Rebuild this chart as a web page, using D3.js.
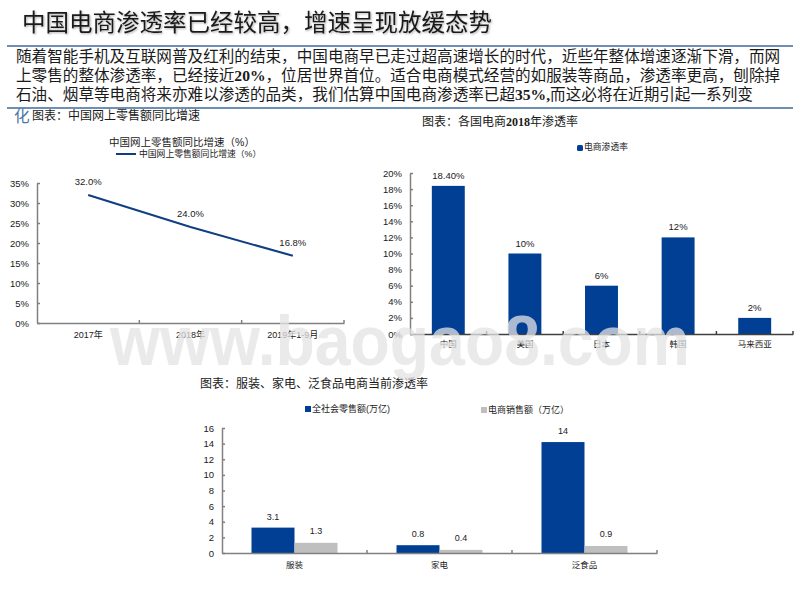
<!DOCTYPE html>
<html>
<head>
<meta charset="utf-8">
<script src="https://cdn.jsdelivr.net/npm/d3@7"></script>
<style>
  html, body { margin: 0; padding: 0; background: #fff; }
  text { font-family: "Liberation Sans", "Noto Sans CJK SC", sans-serif; fill: #1a1a1a; }
  .serif { font-family: "Liberation Serif", "Noto Sans CJK SC", serif; }
  .axis path, .axis line { stroke: #808080; stroke-width: 1.5; }
</style>
</head>
<body>
<div id="chart"></div>
<script>
/////////////////////////Data////////////////////////////
let titleText = "中国电商渗透率已经较高，增速呈现放缓态势";
let bodyLines = [
  "随着智能手机及互联网普及红利的结束，中国电商早已走过超高速增长的时代，近些年整体增速逐渐下滑，而网",
  "上零售的整体渗透率，已经接近20%，位居世界首位。适合电商模式经营的如服装等商品，渗透率更高，刨除掉",
  "石油、烟草等电商将来亦难以渗透的品类，我们估算中国电商渗透率已超35%,而这必将在近期引起一系列变"
];

let growthYears = ["2017年", "2018年", "2019年1-9月"];
let growthValues = [32.0, 24.0, 16.8];
let growthTicks = [0, 5, 10, 15, 20, 25, 30, 35];

let countries = ["中国", "美国", "日本", "韩国", "马来西亚"];
let penetration = [18.4, 10, 6, 12, 2];
let penetrationLabels = ["18.40%", "10%", "6%", "12%", "2%"];
let penetrationTicks = [0, 2, 4, 6, 8, 10, 12, 14, 16, 18, 20];

let goods = ["服装", "家电", "泛食品"];
let retailValues = [3.25, 1.0, 14.2];
let retailLabels = ["3.1", "0.8", "14"];
let onlineValues = [1.3, 0.4, 0.9];
let onlineLabels = ["1.3", "0.4", "0.9"];
let salesTicks = [0, 2, 4, 6, 8, 10, 12, 14, 16];

/////////////////////////Set Up////////////////////////////
let svg = d3.select("#chart").append("svg")
  .attr("width", 800)
  .attr("height", 600)
  .style("display", "block");

let blue = "#003f94";
let gray = "#bfbfbf";
let rule = "#3c6a9c";

// Plain text label
function label(x, y, str, size, anchor) {
  return svg.append("text")
    .attr("x", x)
    .attr("y", y)
    .attr("font-size", size)
    .attr("text-anchor", anchor || "start")
    .text(str);
}

// Caption and body text, digits are bold serif
function serifRuns(node, str) {
  str.split(/(\d+%?,?)/).forEach((part, i) => {
    if (!part) return;
    node.append("tspan")
      .attr("font-weight", i % 2 ? "bold" : "normal")
      .text(part);
  });
  return node;
}

// Small marks between the categories of a band axis
function bandTicks(scale, yPos, color) {
  let step = scale.step();
  let start = scale.range()[0];
  scale.domain().forEach((d, i) => {
    let px = start + step * (i + 1);
    svg.append("line").attr("x1", px).attr("x2", px).attr("y1", yPos - 3).attr("y2", yPos)
      .attr("stroke", color).attr("stroke-width", 1.5);
  });
}

/////////////////////////Header////////////////////////////
svg.append("text")
  .attr("x", 22)
  .attr("y", 31)
  .attr("font-size", 23.5)
  .style("filter", "drop-shadow(1px 1px 1px #aaa)")
  .text(titleText);

svg.append("line").attr("x1", 7).attr("x2", 793).attr("y1", 46).attr("y2", 46)
  .attr("stroke", rule).attr("stroke-width", 1.5);
svg.append("line").attr("x1", 7).attr("x2", 793).attr("y1", 108).attr("y2", 108)
  .attr("stroke", rule).attr("stroke-width", 1.5);

bodyLines.forEach((line, i) => {
  let t = svg.append("text")
    .attr("class", "serif")
    .attr("x", 16)
    .attr("y", 62 + i * 19)
    .attr("font-size", 15.6);
  serifRuns(t, line);
});

svg.append("text")
  .attr("x", 14)
  .attr("y", 122)
  .attr("font-size", 15.6)
  .style("fill", "#4a76a5")
  .text("化");

serifRuns(svg.append("text").attr("class", "serif").attr("x", 32).attr("y", 120).attr("font-size", 12),
  "图表：中国网上零售额同比增速");
serifRuns(svg.append("text").attr("class", "serif").attr("x", 422).attr("y", 126).attr("font-size", 12),
  "图表：各国电商2018年渗透率");
serifRuns(svg.append("text").attr("class", "serif").attr("x", 200).attr("y", 388).attr("font-size", 12),
  "图表：服装、家电、泛食品电商当前渗透率");

/////////////////////////Line Chart////////////////////////////
let x1 = d3.scaleBand().domain(growthYears).range([37, 344]);
let y1 = d3.scaleLinear().domain([0, 35]).range([323, 183]);

svg.append("g").attr("class", "axis")
  .attr("transform", "translate(0,323)")
  .call(d3.axisBottom(x1).tickSize(0).tickPadding(9))
  .call(g => g.selectAll("text").attr("font-size", 9));

svg.append("g").attr("class", "axis")
  .attr("transform", "translate(37,0)")
  .call(d3.axisLeft(y1).tickValues(growthTicks).tickFormat(d => d + "%").tickSize(-3).tickSizeOuter(0).tickPadding(8))
  .call(g => g.selectAll("text").attr("font-size", 9.5));

bandTicks(x1, 323, "#808080");

let growthLine = d3.line()
  .x((d, i) => x1(growthYears[i]) + x1.bandwidth() / 2)
  .y(d => y1(d));

svg.append("path")
  .attr("d", growthLine(growthValues))
  .attr("fill", "none")
  .attr("stroke", "#0f3f83")
  .attr("stroke-width", 2);

growthValues.forEach((v, i) => {
  label(x1(growthYears[i]) + x1.bandwidth() / 2, y1(v) - 10, v.toFixed(1) + "%", 9.5, "middle");
});

label(182, 146, "中国网上零售额同比增速（%）", 10.5, "middle");
svg.append("line").attr("x1", 116).attr("x2", 136).attr("y1", 154).attr("y2", 154)
  .attr("stroke", "#0f3f83").attr("stroke-width", 2);
label(139, 157, "中国网上零售额同比增速（%）", 8.8);

/////////////////////////Penetration Chart////////////////////////////
let x2 = d3.scaleBand().domain(countries).range([410, 793]).paddingInner(0.57).paddingOuter(0.285);
let y2 = d3.scaleLinear().domain([0, 20]).range([334, 173]);

svg.append("g").selectAll("rect")
  .data(penetration)
  .enter()
  .append("rect")
  .attr("x", (d, i) => x2(countries[i]))
  .attr("y", d => y2(d))
  .attr("width", x2.bandwidth())
  .attr("height", d => 334 - y2(d))
  .attr("fill", blue);

svg.append("g").attr("class", "axis")
  .attr("transform", "translate(0,334)")
  .call(d3.axisBottom(x2).tickSize(0).tickPadding(7))
  .call(g => g.select("path").style("stroke", "#404040"))
  .call(g => g.selectAll("text").attr("font-size", 8.5));

svg.append("g").attr("class", "axis")
  .attr("transform", "translate(410,0)")
  .call(d3.axisLeft(y2).tickValues(penetrationTicks).tickFormat(d => d + "%").tickSize(-3).tickSizeOuter(0).tickPadding(8))
  .call(g => g.selectAll("text").attr("font-size", 9.5));

// The band scale has inner padding, so separators use an unpadded copy
bandTicks(d3.scaleBand().domain(countries).range([410, 793]), 334, "#404040");

penetration.forEach((v, i) => {
  label(x2(countries[i]) + x2.bandwidth() / 2, y2(v) - 7, penetrationLabels[i], 9.5, "middle");
});

svg.append("rect").attr("x", 577).attr("y", 145).attr("width", 6).attr("height", 6).attr("rx", 1.5).attr("fill", blue);
label(584, 150, "电商渗透率", 8.8);

/////////////////////////Sales Chart////////////////////////////
let x3 = d3.scaleBand().domain(goods).range([222, 657]);
let y3 = d3.scaleLinear().domain([0, 16]).range([553, 428]);
let barWidth = 43;

goods.forEach((g, i) => {
  let center = x3(g) + x3.bandwidth() / 2;
  svg.append("rect")
    .attr("x", center - barWidth)
    .attr("y", y3(retailValues[i]))
    .attr("width", barWidth)
    .attr("height", 553 - y3(retailValues[i]))
    .attr("fill", blue);
  svg.append("rect")
    .attr("x", center)
    .attr("y", y3(onlineValues[i]))
    .attr("width", barWidth)
    .attr("height", 553 - y3(onlineValues[i]))
    .attr("fill", gray);
  label(center - barWidth / 2, y3(retailValues[i]) - 8, retailLabels[i], 9, "middle");
  label(center + barWidth / 2, y3(onlineValues[i]) - 9, onlineLabels[i], 9, "middle");
});

svg.append("g").attr("class", "axis")
  .attr("transform", "translate(0,553)")
  .call(d3.axisBottom(x3).tickSize(0).tickPadding(9))
  .call(g => g.selectAll("text").attr("font-size", 8.5));

svg.append("g").attr("class", "axis")
  .attr("transform", "translate(222,0)")
  .call(d3.axisLeft(y3).tickValues(salesTicks).tickSize(-3).tickSizeOuter(0).tickPadding(8))
  .call(g => g.selectAll("text").attr("font-size", 9.5));

bandTicks(x3, 553, "#808080");

svg.append("rect").attr("x", 305).attr("y", 406).attr("width", 6).attr("height", 6).attr("fill", blue);
label(312, 412, "全社会零售额(万亿)", 9);
svg.append("rect").attr("x", 481).attr("y", 407).attr("width", 6).attr("height", 6).attr("fill", gray);
label(488, 413, "电商销售额（万亿）", 9);

/////////////////////////Watermark////////////////////////////
svg.append("text")
  .attr("x", 400)
  .attr("y", 365)
  .attr("text-anchor", "middle")
  .attr("font-size", 70)
  .attr("font-weight", "bold")
  .style("fill", "#e4e4e4")
  .style("opacity", 0.75)
  .attr("textLength", 580)
  .attr("lengthAdjust", "spacingAndGlyphs")
  .text("www.baogao8.com");
</script>
</body>
</html>
